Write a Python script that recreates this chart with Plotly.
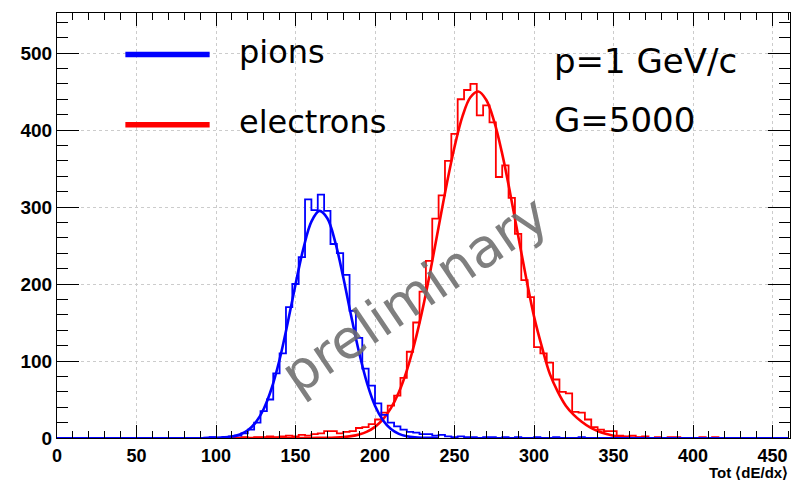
import plotly.graph_objects as go

# ---------------- data ----------------
BIN_WIDTH = 4
N_BINS = 115  # 0 .. 460

pion_first_edge = 92
pion_counts = [0, 1, 0, 1, 2, 3, 6, 11, 20, 35, 50, 84, 110, 170, 200, 235,
               310, 296, 316, 295, 252, 240, 212, 165, 130, 90, 68, 45, 30, 20,
               15, 11, 8, 7, 5, 5, 3, 4, 2, 1, 2, 1, 1, 0, 1, 1, 0, 1, 0, 1,
               0, 0, 1, 0, 0, 1, 0, 0, 0, 1]

elec_first_edge = 108
elec_counts = [1, 0, 1, 0, 1, 1, 2, 1, 2, 3, 2, 4, 3, 5, 6, 9, 9, 6, 8, 9,
               13, 14, 18, 24, 33, 42, 55, 78, 112, 150, 190, 230, 285, 315, 360, 395,
               440, 452, 460, 419, 432, 410, 339, 354, 312, 265, 205, 183, 118, 110,
               98, 76, 60, 58, 34, 33, 24, 14, 11, 9, 9, 3, 2, 3, 1, 2,
               0, 1, 0, 1, 1, 0, 0, 0, 1, 0, 1]

pion_fit_x = [92, 95, 100, 105, 110, 115, 120, 125, 130, 135, 140, 145, 150, 155,
              160, 165, 170, 175, 180, 185, 190, 195, 200, 205, 210, 215, 220,
              225, 230, 235, 240]
pion_fit_y = [0, 0.1, 0.3, 0.75, 1.9, 4.6, 10, 20.3, 37.7, 64.6, 102, 148.6, 199.5,
              246.4, 281, 295, 285.5, 254.5, 209, 158.6, 111, 71.3, 42, 23.1, 11.6,
              5.4, 2.3, 0.9, 0.33, 0.1, 0.03]

elec_fit_x = [110, 150, 160, 170, 175, 180, 185, 190, 195, 200, 205, 210, 215, 220,
              225, 230, 235, 240, 245, 250, 255, 260, 265, 270, 275, 280, 285,
              290, 295, 300, 305, 310, 315, 320, 325, 330, 335, 340, 345, 350,
              355, 360, 365, 370]
elec_fit_y = [0, 0.01, 0.05, 0.28, 0.6, 1.2, 2.4, 4.6, 8.3, 14.5, 24.1, 38.7, 59.4,
              87.6, 124, 168, 219, 274, 328.7, 378, 417.7, 442.5, 450, 439, 410.9,
              369, 318, 263, 208.6, 158, 118, 83, 60, 42, 30, 21, 14, 9, 5.5, 3,
              1.5, 0.7, 0.3, 0.1]

X_MAJOR, X_MINOR = 50, 10
Y_MAJOR, Y_MINOR = 100, 20

legend_labels = ["pions", "electrons"]
info_labels = ["p=1 GeV/c", "G=5000"]
x_title = "Tot \u27e8dE/dx\u27e9"
watermark = "preliminary"


def full_hist(counts, first_edge):
    arr = [0] * N_BINS
    start = first_edge // BIN_WIDTH
    for k, c in enumerate(counts):
        if start + k < N_BINS:
            arr[start + k] = c
    return arr


edges = [i * BIN_WIDTH for i in range(N_BINS + 1)]
pion_full = full_hist(pion_counts, pion_first_edge)
elec_full = full_hist(elec_counts, elec_first_edge)

BLUE = "#0000ff"
RED = "#ff0000"

fig = go.Figure()
fig.add_trace(go.Scatter(x=edges, y=elec_full + [elec_full[-1]], mode="lines",
                         line=dict(color=RED, width=1.8, shape="hv"), showlegend=False))
fig.add_trace(go.Scatter(x=elec_fit_x, y=elec_fit_y, mode="lines",
                         line=dict(color=RED, width=2.6, shape="spline"), showlegend=False))
fig.add_trace(go.Scatter(x=edges, y=pion_full + [pion_full[-1]], mode="lines",
                         line=dict(color=BLUE, width=1.8, shape="hv"), showlegend=False))
fig.add_trace(go.Scatter(x=pion_fit_x, y=pion_fit_y, mode="lines",
                         line=dict(color=BLUE, width=2.6, shape="spline"), showlegend=False))

tickfont = dict(family="Liberation Sans", size=18, color="black", weight="bold")
ytickfont = dict(family="Liberation Sans", size=19, color="black", weight="bold")

fig.update_layout(
    width=792, height=480,
    margin=dict(l=57, r=2, t=13, b=42),
    paper_bgcolor="white", plot_bgcolor="white",
    xaxis=dict(range=[0, 461], tickmode="linear", tick0=0, dtick=X_MAJOR,
               ticks="inside", ticklen=13, tickcolor="black", tickwidth=1,
               minor=dict(dtick=X_MINOR, tick0=0, ticks="inside", ticklen=7,
                          tickcolor="black", tickwidth=1, showgrid=False),
               showline=True, linecolor="black", linewidth=1, mirror="allticks",
               showgrid=True, gridcolor="#cccccc", griddash="dot", gridwidth=1,
               zeroline=False, tickfont=tickfont, automargin=False, ticklabelstandoff=1),
    yaxis=dict(range=[0, 552], tickmode="linear", tick0=0, dtick=Y_MAJOR,
               ticks="inside", ticklen=22, tickcolor="black", tickwidth=1,
               minor=dict(dtick=Y_MINOR, tick0=0, ticks="inside", ticklen=11,
                          tickcolor="black", tickwidth=1, showgrid=False),
               showline=True, linecolor="black", linewidth=1, mirror="allticks",
               showgrid=True, gridcolor="#cccccc", griddash="dot", gridwidth=1,
               zeroline=False, tickfont=ytickfont, automargin=False),
)

# legend samples
for yv, col in [(498, BLUE), (407, RED)]:
    fig.add_shape(type="line", xref="x", yref="y", x0=43, x1=96, y0=yv, y1=yv,
                  line=dict(color=col, width=5.5))

txtfont = dict(family="DejaVu Sans", size=32, color="black")
fig.add_annotation(x=113.5, y=501, xref="x", yref="y", text=legend_labels[0],
                   showarrow=False, xanchor="left", yanchor="middle", font=txtfont)
fig.add_annotation(x=113.5, y=410.5, xref="x", yref="y", text=legend_labels[1],
                   showarrow=False, xanchor="left", yanchor="middle", font=txtfont)
infofont = dict(family="DejaVu Sans", size=34, color="black")
fig.add_annotation(x=311, y=490, xref="x", yref="y", text=info_labels[0],
                   showarrow=False, xanchor="left", yanchor="middle", font=infofont)
fig.add_annotation(x=311, y=413, xref="x", yref="y", text=info_labels[1],
                   showarrow=False, xanchor="left", yanchor="middle", font=infofont)

fig.add_annotation(x=1, y=-0.082, xref="paper", yref="paper", text=x_title,
                   showarrow=False, xanchor="right", yanchor="middle",
                   font=dict(family="Liberation Sans", size=15, color="black", weight="bold"))

fig.add_annotation(x=225, y=186, xref="x", yref="y", text=watermark, showarrow=False,
                   textangle=-34, xanchor="center", yanchor="middle", opacity=0.88,
                   font=dict(family="DejaVu Sans", size=54, color="#6e6e6e"))

fig.write_html("out.html", config={"displayModeBar": False},
               post_script="document.body.style.margin='0';document.body.style.overflow='hidden';")
